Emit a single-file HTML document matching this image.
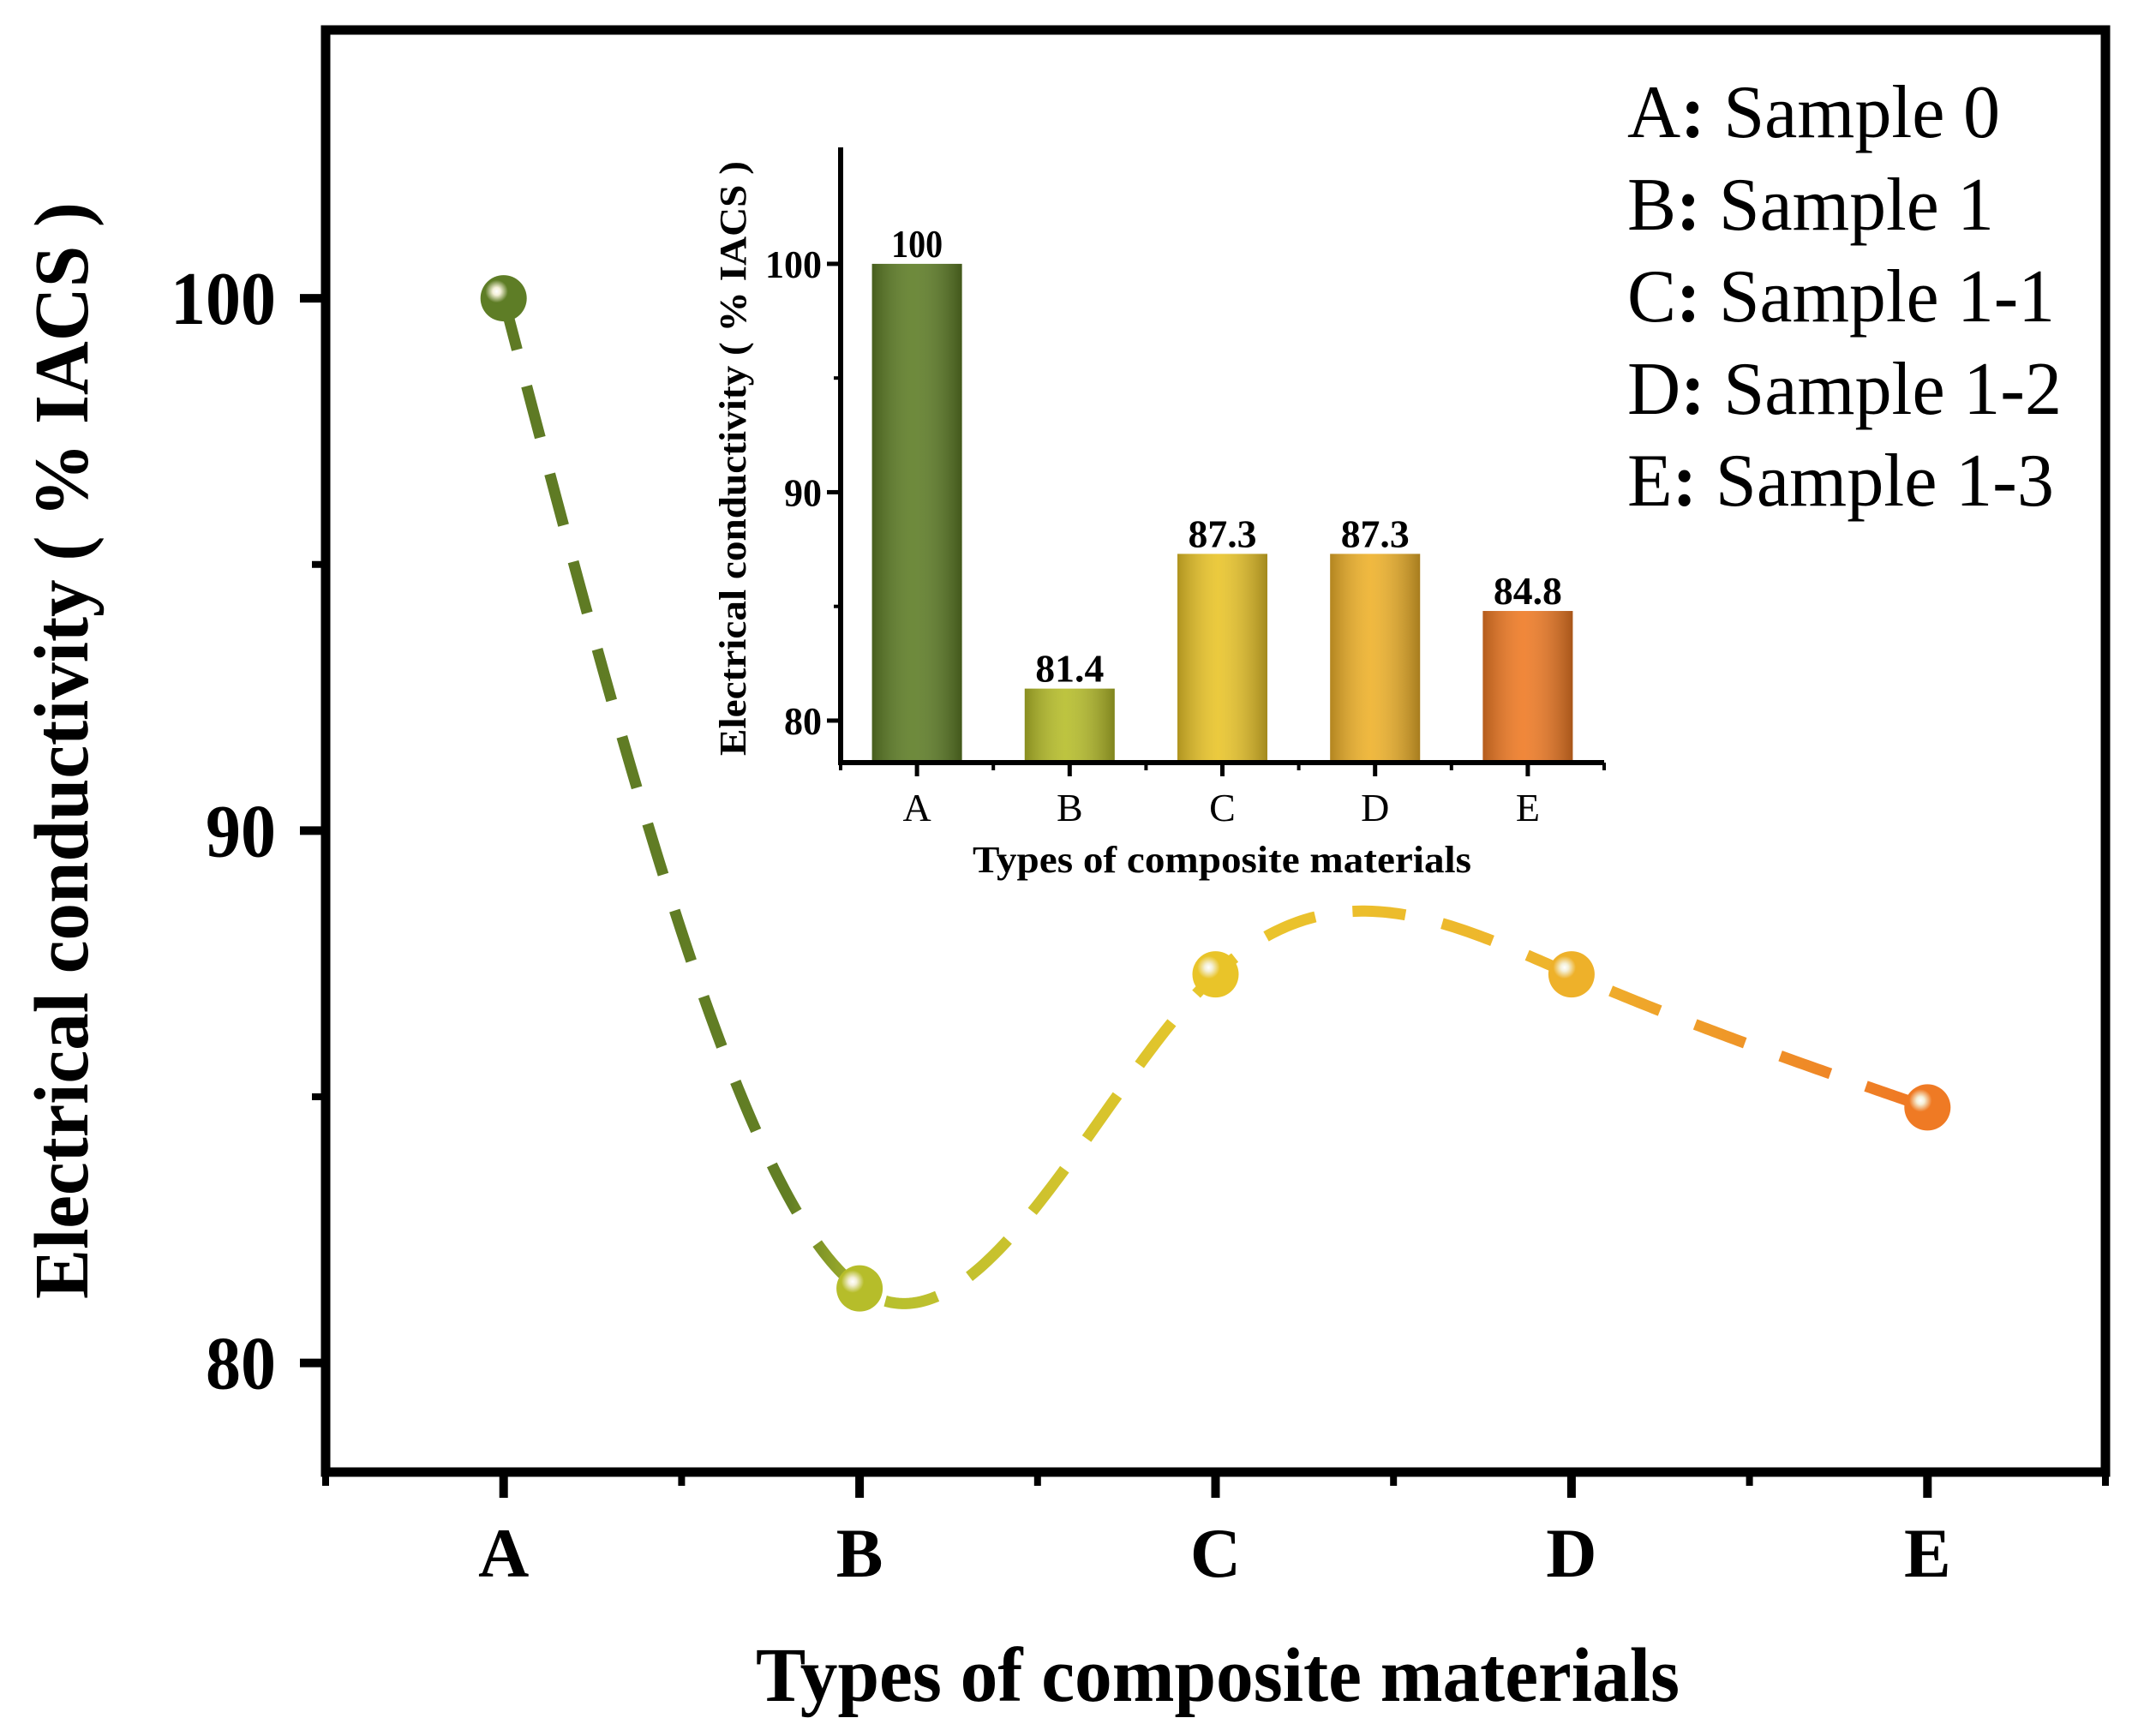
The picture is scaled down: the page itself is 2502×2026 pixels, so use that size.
<!DOCTYPE html>
<html><head><meta charset="utf-8"><style>
html,body{margin:0;padding:0;background:#fff;}
svg{display:block;}
text{font-family:"Liberation Serif",serif;}
</style></head><body>
<svg id="chart" width="2502" height="2026" viewBox="0 0 2502 2026" xmlns="http://www.w3.org/2000/svg">
<defs>
<linearGradient id="lineGrad" gradientUnits="userSpaceOnUse" x1="587" y1="0" x2="2252" y2="0">
<stop offset="0" stop-color="#5e7a24"/><stop offset="0.2" stop-color="#627e24"/>
<stop offset="0.26" stop-color="#b5bf2e"/><stop offset="0.5" stop-color="#e9c62c"/>
<stop offset="0.75" stop-color="#efb22c"/><stop offset="1" stop-color="#ef7524"/>
</linearGradient>
</defs>
<g id="main"></g>
<g id="inset"></g>
<g id="legend">
<text x="1899" y="160" font-size="88" textLength="435" lengthAdjust="spacingAndGlyphs">A<tspan font-weight="bold">:</tspan> Sample 0</text>
<text x="1899" y="268" font-size="88" textLength="428" lengthAdjust="spacingAndGlyphs">B<tspan font-weight="bold">:</tspan> Sample 1</text>
<text x="1899" y="375" font-size="88" textLength="499" lengthAdjust="spacingAndGlyphs">C<tspan font-weight="bold">:</tspan> Sample 1-1</text>
<text x="1899" y="483" font-size="88" textLength="507" lengthAdjust="spacingAndGlyphs">D<tspan font-weight="bold">:</tspan> Sample 1-2</text>
<text x="1899" y="590" font-size="88" textLength="498" lengthAdjust="spacingAndGlyphs">E<tspan font-weight="bold">:</tspan> Sample 1-3</text>
</g>
</svg>
<script>
const categories = ["A","B","C","D","E"];
const values = [100, 81.4, 87.3, 87.3, 84.8];
const valueLabels = ["100","81.4","87.3","87.3","84.8"];
const yTicks = [80, 90, 100];
const yMinorTicks = [85, 95];
const barColors = ["#5e7d26","#b6bd2a","#e9c429","#eeb12a","#ef7a24"];

const NS = "http://www.w3.org/2000/svg";
function mk(parent, tag, attrs){ const e=document.createElementNS(NS,tag); for(const k in attrs) e.setAttribute(k,attrs[k]); parent.appendChild(e); return e; }
const defs = document.querySelector('defs');

// ---------- main chart ----------
const M = {l:380, r:2457, t:35, b:1718, xmin:-0.5, xmax:4.5, ymin:77.95, ymax:105.04};
const mx = i => M.l + (i - M.xmin)/(M.xmax-M.xmin)*(M.r-M.l);
const my = v => M.b - (v - M.ymin)/(M.ymax-M.ymin)*(M.b-M.t);
const main = document.getElementById('main');

function spline(ys){
  const n=ys.length; const a=ys.slice(); const c=new Array(n).fill(0);
  const alpha=[0], l=[1], mu=[0], z=[0];
  for(let i=1;i<n-1;i++) alpha[i]=3*(a[i+1]-a[i]) - 3*(a[i]-a[i-1]);
  for(let i=1;i<n-1;i++){ l[i]=4-mu[i-1]; mu[i]=1/l[i]; z[i]=(alpha[i]-z[i-1])/l[i]; }
  const b=[], d=[];
  for(let j=n-2;j>=0;j--){ c[j]=z[j]-mu[j]*c[j+1]; b[j]=(a[j+1]-a[j]) - (c[j+1]+2*c[j])/3; d[j]=(c[j+1]-c[j])/3; }
  return t => { let j=Math.min(Math.floor(t), n-2); const dx=t-j; return a[j]+b[j]*dx+c[j]*dx*dx+d[j]*dx*dx*dx; };
}
const sp = spline(values);
let dstr="";
for(let k=0;k<=400;k++){ const t=k/100; dstr += (k?"L":"M")+mx(t).toFixed(2)+","+my(sp(t)).toFixed(2); }
const curve = mk(main,'path',{d:dstr, fill:"none", stroke:"url(#lineGrad)", "stroke-width":13, "stroke-dasharray":"62 44", "stroke-linecap":"butt"});



values.forEach((v,i)=>{
  const g = mk(defs,'radialGradient',{id:'mk'+i, cx:"0.35", cy:"0.35", r:"0.7"});
  mk(g,'stop',{offset:"0", "stop-color":"#ffffff"});
  mk(g,'stop',{offset:"0.12", "stop-color":"#f4f0d8"});
  mk(g,'stop',{offset:"0.35", "stop-color":barColors[i]});
  mk(g,'stop',{offset:"1", "stop-color":barColors[i]});
  const c = mk(main,'circle',{cx:mx(i), cy:my(v), r:27, fill:"url(#mk"+i+")"});
  
  
});

const frame = mk(main,'rect',{x:M.l, y:M.t, width:M.r-M.l, height:M.b-M.t, fill:"none", stroke:"#000", "stroke-width":11});



yTicks.forEach(v=>{
  const tk = mk(main,'line',{x1:M.l-30, x2:M.l, y1:my(v), y2:my(v), stroke:"#000", "stroke-width":10});
  
  
  const s = String(v);
  const t = mk(main,'text',{x:322, y:my(v)+30, "font-size":88, "font-weight":"bold", "text-anchor":"end", textLength: s.length*41, lengthAdjust:"spacingAndGlyphs"});
  t.textContent = s;
  
  
});
yMinorTicks.forEach(v=>{
  const tk = mk(main,'line',{x1:M.l-16, x2:M.l, y1:my(v), y2:my(v), stroke:"#000", "stroke-width":8});
  
  
});
categories.forEach((c,i)=>{
  const tk = mk(main,'line',{x1:mx(i), x2:mx(i), y1:M.b, y2:M.b+30, stroke:"#000", "stroke-width":10});
  
  
  const t = mk(main,'text',{x:mx(i), y:1840, "font-size":82, "font-weight":"bold", "text-anchor":"middle"});
  t.textContent = c;
  
  
});
for(let i=0;i<=5;i++){
  const tk = mk(main,'line',{x1:mx(i-0.5), x2:mx(i-0.5), y1:M.b, y2:M.b+16, stroke:"#000", "stroke-width":8});
  
  
}
const xt = mk(main,'text',{x:1421, y:1985, "font-size":90, "font-weight":"bold", "text-anchor":"middle", textLength:1078, lengthAdjust:"spacingAndGlyphs"});
xt.textContent = "Types of composite materials";


const yt = mk(main,'text',{x:0, y:0, "font-size":90, "font-weight":"bold", "text-anchor":"middle", textLength:1280, lengthAdjust:"spacingAndGlyphs", transform:"translate(102,876) rotate(-90)"});
yt.textContent = "Electrical conductivity ( % IACS )";



// ---------- inset ----------
const I = {l:981, r:1872, t:172, b:890, xmin:-0.5, xmax:4.5, ymin:78.16, ymax:105.1};
const ix = i => I.l + (i - I.xmin)/(I.xmax-I.xmin)*(I.r-I.l);
const iy = v => I.b - (v - I.ymin)/(I.ymax-I.ymin)*(I.b-I.t);
const inset = document.getElementById('inset');
const bw = 105;
values.forEach((v,i)=>{
  const g2 = mk(defs,'linearGradient',{id:'bs'+i, x1:"0", y1:"0", x2:"1", y2:"0"});
  mk(g2,'stop',{offset:"0", "stop-color":"#000", "stop-opacity":"0.25"});
  mk(g2,'stop',{offset:"0.45", "stop-color":"#fff", "stop-opacity":"0.1"});
  mk(g2,'stop',{offset:"1", "stop-color":"#000", "stop-opacity":"0.3"});
  const r = mk(inset,'rect',{x:ix(i)-bw/2, y:iy(v), width:bw, height:I.b-iy(v), fill:barColors[i]});
  
  
  mk(inset,'rect',{x:ix(i)-bw/2, y:iy(v), width:bw, height:I.b-iy(v), fill:"url(#bs"+i+")"});
  const t = mk(inset,'text',{x:ix(i), y:iy(v)-8, "font-size":46, "font-weight":"bold", "text-anchor":"middle", textLength: valueLabels[i].length*20, lengthAdjust:"spacingAndGlyphs"});
  t.textContent = valueLabels[i];
  
  
});
const iax = mk(inset,'path',{d:`M${I.l},${I.t} L${I.l},${I.b} L${I.r},${I.b}`, fill:"none", stroke:"#000", "stroke-width":6});


yTicks.forEach(v=>{
  const tk = mk(inset,'line',{x1:I.l-16, x2:I.l, y1:iy(v), y2:iy(v), stroke:"#000", "stroke-width":5});
  
  
  const s=String(v);
  const t = mk(inset,'text',{x:I.l-22, y:iy(v)+16, "font-size":46, "font-weight":"bold", "text-anchor":"end", textLength:s.length*22, lengthAdjust:"spacingAndGlyphs"});
  t.textContent = s;
  
  
});
yMinorTicks.forEach(v=>{
  const tk = mk(inset,'line',{x1:I.l-8, x2:I.l, y1:iy(v), y2:iy(v), stroke:"#000", "stroke-width":4});
  
  
});
categories.forEach((c,i)=>{
  const tk = mk(inset,'line',{x1:ix(i), x2:ix(i), y1:I.b, y2:I.b+16, stroke:"#000", "stroke-width":5});
  
  
  const t = mk(inset,'text',{x:ix(i), y:958, "font-size":46, "text-anchor":"middle"});
  t.textContent = c;
  
  
});
for(let i=0;i<=5;i++){
  const tk = mk(inset,'line',{x1:ix(i-0.5), x2:ix(i-0.5), y1:I.b, y2:I.b+9, stroke:"#000", "stroke-width":4});
  
  
}
const ixt = mk(inset,'text',{x:1426, y:1018, "font-size":44, "font-weight":"bold", "text-anchor":"middle", textLength:582, lengthAdjust:"spacingAndGlyphs"});
ixt.textContent = "Types of composite materials";


const iyt = mk(inset,'text',{x:0, y:0, "font-size":44, "font-weight":"bold", "text-anchor":"middle", textLength:694, lengthAdjust:"spacingAndGlyphs", transform:"translate(870,535) rotate(-90)"});
iyt.textContent = "Electrical conductivity ( % IACS )";


</script>
</body></html>
